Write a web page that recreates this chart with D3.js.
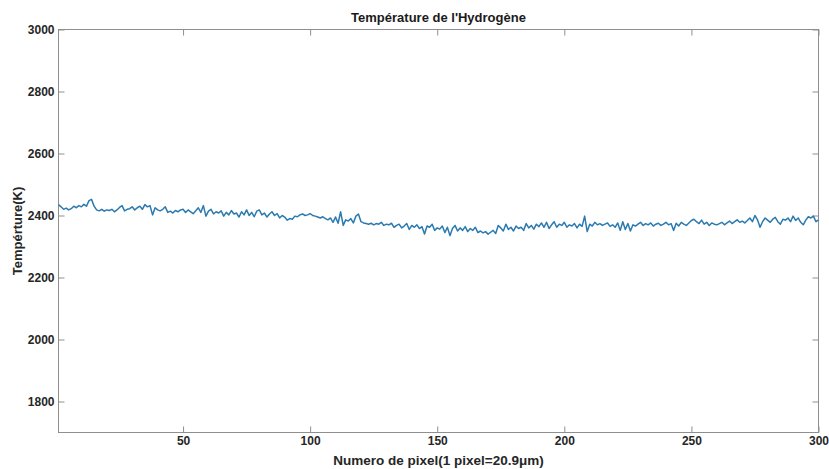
<!DOCTYPE html>
<html>
<head>
<meta charset="utf-8">
<script src="https://cdn.jsdelivr.net/npm/d3@7"></script>
<style>
  html, body { margin: 0; padding: 0; background: #fff; }
  svg { display: block; font-family: "Liberation Sans", Arial, sans-serif; }
</style>
</head>
<body>
<svg id="chart" width="829" height="469"></svg>
<script>
// Hydrogen temperature along the pixel line (K), one value per pixel 1..300
const temperature = [
  2435, 2428, 2420, 2424, 2418, 2422, 2430, 2425, 2432, 2428,
  2436, 2430, 2448, 2452, 2430, 2418, 2415, 2420, 2414, 2418,
  2416, 2420, 2412, 2418, 2426, 2432, 2415, 2420, 2422, 2428,
  2418, 2425, 2430, 2420, 2435, 2428, 2432, 2402, 2425, 2418,
  2415, 2420, 2428, 2410, 2414, 2408, 2416, 2412, 2418, 2420,
  2410, 2418, 2412, 2406, 2415, 2425, 2410, 2432, 2398, 2414,
  2420, 2405, 2412, 2408, 2415, 2398, 2410, 2402, 2416, 2405,
  2408, 2395, 2412, 2402, 2418, 2400, 2410, 2396, 2414, 2418,
  2402, 2408, 2395, 2405, 2412, 2400, 2406, 2392, 2400, 2395,
  2385, 2390, 2388, 2398, 2396, 2402, 2405, 2400, 2402, 2406,
  2400, 2398, 2395, 2392, 2396, 2390, 2386, 2392, 2378, 2395,
  2375, 2412, 2368, 2386, 2382, 2390, 2376, 2398, 2405, 2380,
  2376, 2374, 2372, 2375, 2370, 2374, 2372, 2378, 2368, 2372,
  2370, 2375, 2362, 2368, 2372, 2360, 2366, 2374, 2355, 2368,
  2362, 2370, 2358, 2364, 2340, 2366, 2362, 2372, 2352, 2360,
  2356, 2366, 2345, 2362, 2335, 2358, 2368, 2350, 2360, 2352,
  2364, 2348, 2358, 2352, 2362, 2345, 2350, 2344, 2348, 2340,
  2346, 2352, 2342, 2368, 2360, 2350, 2372, 2355, 2362, 2350,
  2366, 2358, 2362, 2352, 2374, 2360, 2368, 2356, 2372, 2364,
  2376, 2362, 2378, 2358, 2370, 2380, 2362, 2372, 2368, 2378,
  2362, 2370, 2366, 2374, 2360, 2372, 2365, 2398, 2348, 2372,
  2366, 2378, 2370, 2374, 2368, 2372, 2376, 2365, 2370, 2362,
  2376, 2352, 2380, 2355, 2374, 2350, 2370, 2366, 2372, 2378,
  2368, 2374, 2370, 2376, 2366, 2372, 2375, 2368, 2372, 2378,
  2370, 2374, 2352, 2375, 2366, 2378, 2372, 2368, 2376, 2384,
  2388, 2380, 2374, 2385, 2372, 2378, 2368, 2376, 2372, 2370,
  2374, 2378, 2370, 2376, 2382, 2374, 2380, 2386, 2378, 2382,
  2376, 2384, 2392, 2380, 2400, 2386, 2362, 2380, 2392, 2385,
  2378, 2388, 2394, 2380, 2372, 2388, 2385, 2392, 2380, 2398,
  2384, 2392, 2378, 2370, 2385, 2396, 2392, 2398, 2380, 2386
];
const pixels = temperature.map((_, i) => i + 1);

const xTicks = [50, 100, 150, 200, 250, 300];
const yTicks = [1800, 2000, 2200, 2400, 2600, 2800, 3000];
const xDomain = [1, 300];
const yDomain = [1700, 3000];

const titleText = "Température de l'Hydrogène";
const xLabel = "Numero de pixel(1 pixel=20.9\u03bcm)";
const yLabel = "Tempérture(K)";

const svg = d3.select("#chart");
const plot = { left: 58.5, right: 818.5, top: 29.5, bottom: 432.5 };

const x = d3.scaleLinear().domain(xDomain).range([plot.left, plot.right]);
const y = d3.scaleLinear().domain(yDomain).range([plot.bottom, plot.top]);

const axisColor = "#8f8f8f";
const textColor = "#262626";
const tickLen = 6;

// Box around the plot area
svg.append("rect")
  .attr("x", plot.left).attr("y", plot.top)
  .attr("width", plot.right - plot.left).attr("height", plot.bottom - plot.top)
  .attr("fill", "none").attr("stroke", axisColor).attr("stroke-width", 1);

// Axes with inward ticks (bottom/left labelled, top/right tick-only)
const fmt = d3.format("d");
const gx = svg.append("g").attr("transform", `translate(0,${plot.bottom})`)
  .call(d3.axisBottom(x).tickValues(xTicks).tickFormat(fmt).tickSizeInner(-tickLen).tickSizeOuter(0).tickPadding(4));
const gxt = svg.append("g").attr("transform", `translate(0,${plot.top})`)
  .call(d3.axisTop(x).tickValues(xTicks).tickFormat("").tickSizeInner(-tickLen).tickSizeOuter(0));
const gy = svg.append("g").attr("transform", `translate(${plot.left},0)`)
  .call(d3.axisLeft(y).tickValues(yTicks).tickFormat(fmt).tickSizeInner(-tickLen).tickSizeOuter(0).tickPadding(4));
const gyr = svg.append("g").attr("transform", `translate(${plot.right},0)`)
  .call(d3.axisRight(y).tickValues(yTicks).tickFormat("").tickSizeInner(-tickLen).tickSizeOuter(0));

[gx, gxt, gy, gyr].forEach(g => {
  g.select(".domain").remove();
  g.selectAll(".tick line").attr("stroke", axisColor);
  g.selectAll(".tick text")
    .attr("fill", textColor)
    .style("font-size", "12px")
    .style("font-weight", "bold");
});

// Temperature profile
const line = d3.line()
  .x((d, i) => x(pixels[i]))
  .y(d => y(d));

svg.append("path")
  .datum(temperature)
  .attr("d", line)
  .attr("fill", "none")
  .attr("stroke", "#2a7ab0")
  .attr("stroke-width", 1.5)
  .attr("stroke-linejoin", "round");

// Title and axis labels
svg.append("text")
  .attr("x", (plot.left + plot.right) / 2).attr("y", 22)
  .attr("text-anchor", "middle")
  .attr("fill", "#1a1a1a")
  .style("font-size", "13px").style("font-weight", "bold")
  .text(titleText);

svg.append("text")
  .attr("x", (plot.left + plot.right) / 2).attr("y", 465)
  .attr("text-anchor", "middle")
  .attr("fill", textColor)
  .style("font-size", "13.5px").style("font-weight", "bold")
  .text(xLabel);

svg.append("text")
  .attr("transform", `translate(22,${(plot.top + plot.bottom) / 2}) rotate(-90)`)
  .attr("text-anchor", "middle")
  .attr("fill", textColor)
  .style("font-size", "13px").style("font-weight", "bold")
  .text(yLabel);
</script>
</body>
</html>
